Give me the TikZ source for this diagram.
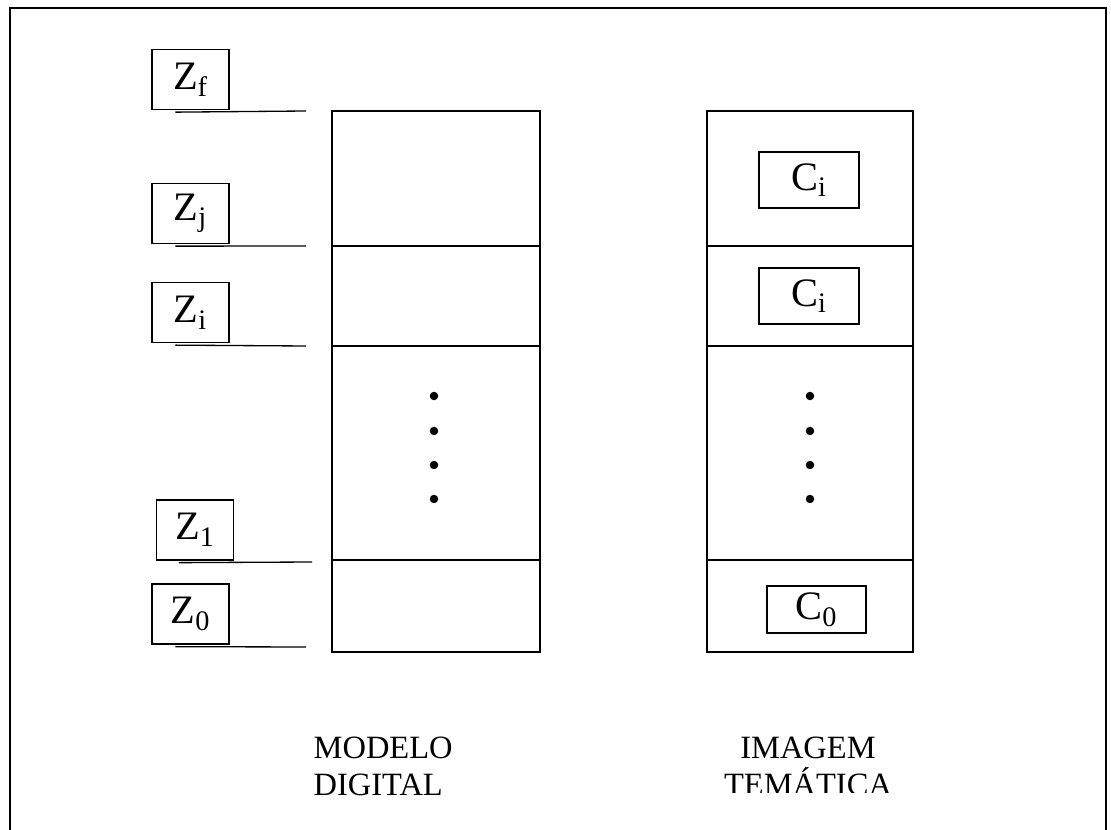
\documentclass[tikz,border=0pt]{standalone}
\usepackage{fontspec}
\setmainfont{Liberation Serif}
\usetikzlibrary{positioning, calc}

\begin{document}
\begin{tikzpicture}[
    x=0.02cm, y=-0.02cm,
    line width=0.75pt,
    zlabel/.style={rectangle, draw, minimum width=1.54cm, minimum height=1.2cm, inner sep=0pt, font=\fontsize{23}{26}\selectfont},
    clabel/.style={rectangle, draw, minimum width=2cm, minimum height=1.12cm, inner sep=0pt, font=\fontsize{23}{26}\selectfont},
    caption/.style={font=\fontsize{18.5}{21}\selectfont, inner sep=0pt},
    dot/.style={circle, fill, inner sep=0pt, minimum size=0.17cm}
]
    \useasboundingbox (0,0) rectangle (1111,830);

    % Frame
    \draw[line width=1.1pt] (10,830) -- (10,8) -- (1106,8) -- (1106,830);

    % Columns
    \draw (332,111) rectangle (540,652);
    \draw (707,111) rectangle (913,652);
    \foreach \y in {246,346,560} {
        \draw (332,\y) -- (540,\y);
        \draw (707,\y) -- (913,\y);
    }

    % Level labels
    \node[zlabel] (zf) at (190.5,79.5) {Z\textsubscript{f}};
    \node[zlabel] (zj) at (190.5,213.5) {Z\textsubscript{j}};
    \node[zlabel] (zi) at (190.5,312.5) {Z\textsubscript{i}};
    \node[zlabel] (z1) at (195,530) {Z\textsubscript{1}};
    \node[zlabel] (z0) at (190.5,614) {Z\textsubscript{0}};

    % Level lines
    \coordinate (lf) at (306,111);
    \coordinate (lj) at (306,246);
    \coordinate (li) at (306,346);
    \coordinate (l1) at (312,562);
    \coordinate (l0) at (306,647);
    \draw ([xshift=0.48cm,yshift=-0.04cm]zf.south west) -- (lf);
    \draw ([xshift=0.48cm,yshift=-0.04cm]zj.south west) -- (lj);
    \draw ([xshift=0.48cm,yshift=-0.04cm]zi.south west) -- (li);
    \draw ([xshift=0.46cm,yshift=-0.04cm]z1.south west) -- (l1);
    \draw ([xshift=0.48cm,yshift=-0.04cm]z0.south west) -- (l0);

    % Classes
    \node[clabel] (cj) at (809,180) {C\textsubscript{i}};
    \node[clabel] (ci) at (809,296) {C\textsubscript{i}};
    \node[clabel, minimum width=1.98cm, minimum height=0.94cm] (c0) at (816.5,609.5) {C\textsubscript{0}};

    % Dots
    \foreach \y [count=\k] in {396,431,465,499} {
        \node[dot] (dl\k) at (434,\y) {};
        \node[dot] (dr\k) at (810,\y) {};
    }

    % Captions
    \node[caption, align=left, anchor=north west] (modelo) at (313,736) {MODELO\\DIGITAL};
    \begin{scope}
        \clip (700,700) rectangle (920,792);
        \node[caption, align=center, anchor=north] (imagem) at (808,736) {IMAGEM\\TEMÁTICA};
    \end{scope}
\end{tikzpicture}
\end{document}
